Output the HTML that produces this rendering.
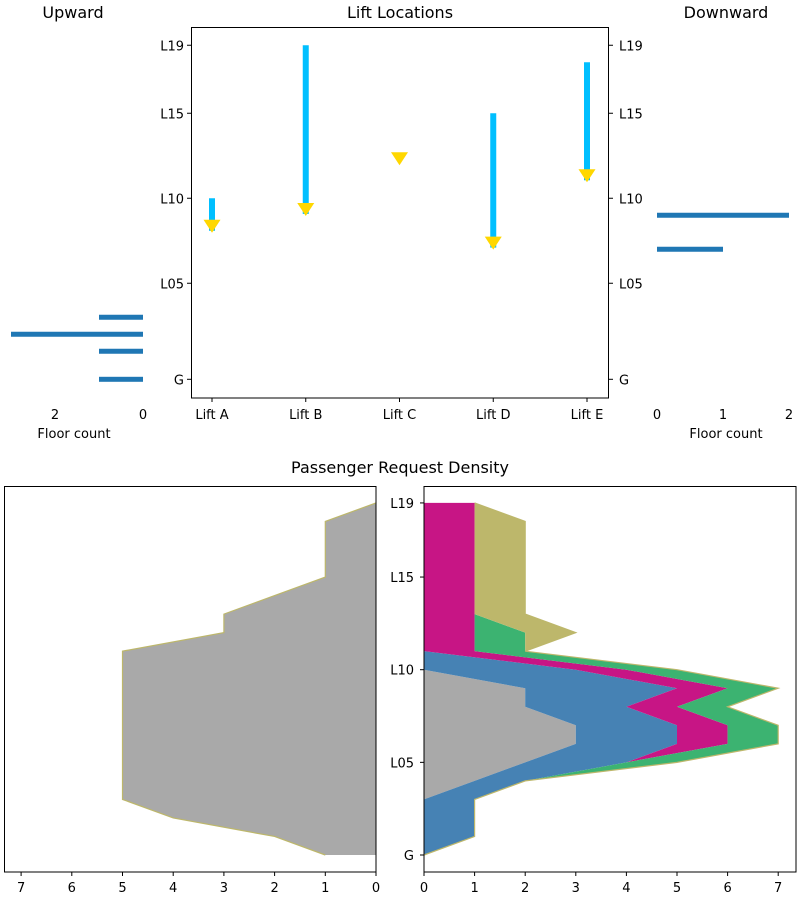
<!DOCTYPE html>
<html><head><meta charset="utf-8"><style>
html,body{margin:0;padding:0;background:#fff;width:800px;height:900px;overflow:hidden}
svg{display:block;font-family:"DejaVu Sans","Liberation Sans",sans-serif}
text{fill:#000}
</style></head><body>
<svg id="chart" width="800" height="900" viewBox="0 0 800 900" xmlns="http://www.w3.org/2000/svg">
<text x="73" y="18" font-size="16" text-anchor="middle">Upward</text>
<text x="400" y="18" font-size="16" text-anchor="middle">Lift Locations</text>
<text x="726" y="18" font-size="16" text-anchor="middle">Downward</text>
<text x="400" y="473" font-size="16" text-anchor="middle">Passenger Request Density</text>
<g id="topg"></g><g id="botg"></g>
</svg>
<script>
// ---- Top data ----
const lifts = ['Lift A','Lift B','Lift C','Lift D','Lift E'];
const liftFrom = [10, 19, null, 15, 18];
const liftPos = [8.38, 9.37, 12.35, 7.39, 11.35];
const floorTickVals = [0, 5, 10, 15, 19];
const floorTickLabels = ['G','L05','L10','L15','L19'];
const upFloors = [0, 1, 2, 3];
const upCounts = [1, 1, 3, 1];
const downFloors = [7, 9];
const downCounts = [1, 2];
// ---- Bottom data ----
const densityLeft = [1,2,4,5,5,5,5,5,5,5,5,5,3,3,2,1,1,1,1,0];
const sGray    = [0,0,0,0,1,2,3,3,2,2,0,0,0,0,0,0,0,0,0,0];
const sBlue    = [0,1,1,1,1,2,2,2,2,3,3,0,0,0,0,0,0,0,0,0];
const sMagenta = [0,0,0,0,0,0,1,1,1,1,1,1,1,1,1,1,1,1,1,1];
const sGreen   = [0,0,0,0,0,1,1,1,1,1,1,1,1,0,0,0,0,0,0,0];
const sKhaki   = [0,0,0,0,0,0,0,0,0,0,0,0,1,1,1,1,1,1,1,0];
const densityTicks = [0,1,2,3,4,5,6,7];

const NS='http://www.w3.org/2000/svg';
function mk(parent, tag, attrs, txt){const e=document.createElementNS(NS,tag);for(const k in attrs)e.setAttribute(k,attrs[k]);if(txt!==undefined)e.textContent=txt;parent.appendChild(e);return e;}
const gTop=document.getElementById('topg'), gBot=document.getElementById('botg');

function yTop(f){const h=f<1?f*1.65:f+0.65;return 379.3-17*h;}
const xLift=i=>212+i*93.75;

let el=mk(gTop,'rect',{x:191.5,y:27.5,width:417,height:370.5,fill:'none',stroke:'#000','stroke-width':1});


floorTickVals.forEach((f,i)=>{
  const y=yTop(f);
  mk(gTop,'line',{x1:187,x2:191,y1:y,y2:y,stroke:'#000'});
  mk(gTop,'line',{x1:609,x2:613,y1:y,y2:y,stroke:'#000'});
  el=mk(gTop,'text',{x:184,y:y+5,'font-size':13,'text-anchor':'end'},floorTickLabels[i]);
  
  
  el=mk(gTop,'text',{x:619,y:y+5,'font-size':13},floorTickLabels[i]);
  
  
});
lifts.forEach((n,i)=>{
  const x=xLift(i);
  mk(gTop,'line',{x1:x,x2:x,y1:398,y2:402,stroke:'#000'});
  el=mk(gTop,'text',{x:x,y:419,'font-size':13,'text-anchor':'middle'},n);
  
  
  if(liftFrom[i]!==null){
    el=mk(gTop,'rect',{x:x-3,y:yTop(liftFrom[i]),width:6,height:yTop(liftPos[i])+5-yTop(liftFrom[i]),fill:'#00BFFF'});
    
    
  }
  const yc=yTop(liftPos[i]);
  el=mk(gTop,'polygon',{points:`${x-8.5},${yc-6} ${x+8.5},${yc-6} ${x},${yc+7}`,fill:'#FFD700'});
  
  
});

const xUp=v=>143-44*v;
upFloors.forEach((f,i)=>{
  const y=yTop(f);
  el=mk(gTop,'rect',{x:xUp(upCounts[i]),y:y-2.5,width:xUp(0)-xUp(upCounts[i]),height:5,fill:'#1f77b4'});
  
  
});
[0,2].forEach(v=>{el=mk(gTop,'text',{x:xUp(v),y:419,'font-size':13,'text-anchor':'middle'},String(v));
  
  });
el=mk(gTop,'text',{x:74,y:438,'font-size':13,'text-anchor':'middle'},'Floor count');



const xDown=v=>657+66*v;
downFloors.forEach((f,i)=>{
  const y=yTop(f);
  el=mk(gTop,'rect',{x:xDown(0),y:y-2.5,width:xDown(downCounts[i])-xDown(0),height:5,fill:'#1f77b4'});
  
  
});
[0,1,2].forEach(v=>{el=mk(gTop,'text',{x:xDown(v),y:419,'font-size':13,'text-anchor':'middle'},String(v));
  
  });
el=mk(gTop,'text',{x:726,y:438,'font-size':13,'text-anchor':'middle'},'Floor count');



// ---- bottom ----
const yB=f=>855-18.53*f;
const xL=v=>376-50.7*v;
const xR=v=>424+50.6*v;
const N=densityLeft.length;
function poly(vals0, vals1, xs){
  let pts=[];
  for(let f=0;f<N;f++)pts.push(xs(vals1[f])+','+yB(f));
  for(let f=N-1;f>=0;f--)pts.push(xs(vals0[f])+','+yB(f));
  return pts.join(' ');
}
const zeros=new Array(N).fill(0);
el=mk(gBot,'polygon',{points:poly(zeros,densityLeft,xL),fill:'#A9A9A9'});


el=mk(gBot,'polyline',{points:densityLeft.map((v,f)=>xL(v)+','+yB(f)).join(' '),fill:'none',stroke:'#BDB76B','stroke-width':1.2});



const series=[sGray,sBlue,sMagenta,sGreen,sKhaki];
const colors=['#A9A9A9','#4682B4','#C71585','#3CB371','#BDB76B'];
const names=['gray','blue','magenta','green','khaki'];
let cum=zeros.slice();
series.forEach((s,k)=>{
  const next=cum.map((c,f)=>c+s[f]);
  el=mk(gBot,'polygon',{points:poly(cum,next,xR),fill:colors[k]});
  
  
  cum=next;
});
el=mk(gBot,'polyline',{points:cum.map((v,f)=>xR(v)+','+yB(f)).join(' '),fill:'none',stroke:'#BDB76B','stroke-width':1.2});



el=mk(gBot,'rect',{x:4.5,y:486.5,width:371.5,height:385.5,fill:'none',stroke:'#000'});


el=mk(gBot,'rect',{x:424,y:486.5,width:372,height:385.5,fill:'none',stroke:'#000'});


densityTicks.forEach(v=>{
  mk(gBot,'line',{x1:xL(v),x2:xL(v),y1:872,y2:876,stroke:'#000'});
  el=mk(gBot,'text',{x:xL(v),y:892,'font-size':13,'text-anchor':'middle'},String(v));
  
  
  mk(gBot,'line',{x1:xR(v),x2:xR(v),y1:872,y2:876,stroke:'#000'});
  el=mk(gBot,'text',{x:xR(v),y:892,'font-size':13,'text-anchor':'middle'},String(v));
  
  
});
floorTickVals.forEach((f,i)=>{
  const y=yB(f);
  mk(gBot,'line',{x1:420,x2:424,y1:y,y2:y,stroke:'#000'});
  el=mk(gBot,'text',{x:414,y:y+5,'font-size':13,'text-anchor':'end'},floorTickLabels[i]);
  
  
});
</script>
</body></html>
